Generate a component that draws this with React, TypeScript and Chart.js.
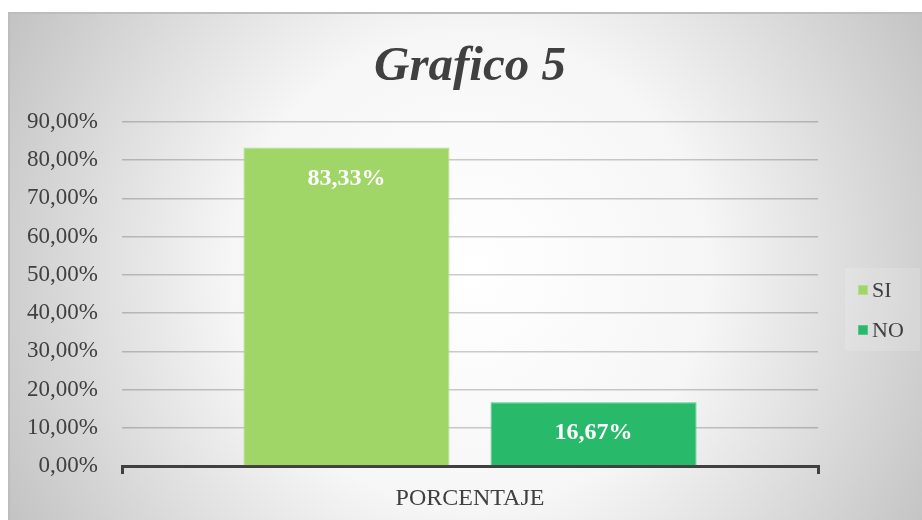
import React, { useEffect, useRef } from "react";
import { Chart, registerables } from "chart.js";

Chart.register(...registerables);

const categories = ["PORCENTAJE"];
const seriesNames = ["SI", "NO"];
const siValues = [83.33];
const noValues = [16.67];
const yTicks = [0, 10, 20, 30, 40, 50, 60, 70, 80, 90];
const titleText = "Grafico 5";
const colors = ["#A0D568", "#28BA6A"];
const borders = ["#B4DE8A", "#52C88A"];

const fmt = (v: number) => v.toFixed(2).replace(".", ",") + "%";

const W = 922;
const H = 520;
const SERIF = "'Liberation Serif', 'Times New Roman', serif";

const bgPlugin = {
  id: "bgPlugin",
  beforeDraw(chart: any) {
    const ctx = chart.ctx;
    ctx.save();
    ctx.fillStyle = "#ffffff";
    ctx.fillRect(0, 0, W, H);
    const g = ctx.createRadialGradient(470, 270, 0, 470, 270, 530);
    g.addColorStop(0, "#ffffff");
    g.addColorStop(0.45, "#f6f6f6");
    g.addColorStop(1, "#c2c2c2");
    ctx.fillStyle = g;
    ctx.fillRect(9, 13, W - 9, H - 13);
    ctx.strokeStyle = "#bdbdbd";
    ctx.lineWidth = 2;
    ctx.beginPath();
    ctx.moveTo(9, H);
    ctx.lineTo(9, 13);
    ctx.lineTo(W, 13);
    ctx.stroke();
    // title
    ctx.fillStyle = "#404040";
    ctx.font = "italic bold 49px " + SERIF;
    ctx.textAlign = "center";
    ctx.textBaseline = "alphabetic";
    ctx.fillText(titleText, 470, 80);
    // legend box
    ctx.fillStyle = "rgba(255,255,255,0.15)";
    ctx.fillRect(845, 268, 75, 83);
    ctx.restore();
  },
  afterDraw(chart: any) {
    const ctx = chart.ctx;
    ctx.save();
    // data labels
    ctx.fillStyle = "#ffffff";
    ctx.font = "bold 24px " + SERIF;
    ctx.textAlign = "center";
    ctx.textBaseline = "middle";
    chart.data.datasets.forEach((ds: any, i: number) => {
      const meta = chart.getDatasetMeta(i);
      meta.data.forEach((bar: any, j: number) => {
        ctx.fillText(fmt(ds.data[j]), bar.x, bar.y + 31);
      });
    });
    // legend
    ctx.font = "22px " + SERIF;
    ctx.textAlign = "left";
    ctx.textBaseline = "middle";
    chart.data.datasets.forEach((ds: any, i: number) => {
      const y = 290 + i * 40;
      ctx.fillStyle = ds.backgroundColor;
      ctx.fillRect(858, y - 5, 10, 10);
      ctx.strokeStyle = ds.borderColor;
      ctx.lineWidth = 1;
      ctx.strokeRect(858.5, y - 4.5, 9, 9);
      ctx.fillStyle = "#404040";
      ctx.fillText(ds.label, 872, y + 1);
    });
    ctx.restore();
  },
};

export default function App() {
  const ref = useRef<HTMLCanvasElement>(null);
  useEffect(() => {
    if (!ref.current) return;
    const chart = new Chart(ref.current, {
      type: "bar",
      data: {
        labels: categories,
        datasets: [
          {
            label: seriesNames[0],
            data: siValues,
            backgroundColor: colors[0],
            borderColor: borders[0],
            borderWidth: 1,
          },
          {
            label: seriesNames[1],
            data: noValues,
            backgroundColor: colors[1],
            borderColor: borders[1],
            borderWidth: 1,
          },
        ],
      },
      options: {
        responsive: false,
        animation: false,
        devicePixelRatio: 1,
        layout: { padding: { top: 122, right: 104, left: 0, bottom: 0 } },
        plugins: { legend: { display: false }, title: { display: false }, tooltip: { enabled: false } },
        datasets: { bar: { categoryPercentage: 0.71, barPercentage: 0.834 } },
        scales: {
          x: {
            offset: true,
            afterFit: (s: any) => { s.height = 54; },
            grid: {
              offset: true,
              drawOnChartArea: false,
              drawTicks: true,
              tickLength: 8,
              color: "#404040",
              lineWidth: 3,
            },
            border: { display: true, color: "#404040", width: 3 },
            ticks: {
              color: "#404040",
              padding: 10,
              font: { family: SERIF, size: 24 },
            },
          },
          y: {
            min: 0,
            max: 90,
            z: 1,
            afterFit: (s: any) => { s.width = 122; },
            afterBuildTicks: (s: any) => { s.ticks = yTicks.map((v) => ({ value: v })); },
            grid: {
              drawTicks: false,
              color: (c: any) => (c.tick && c.tick.value === 0 ? "rgba(0,0,0,0)" : "rgba(0,0,0,0.2)"),
              lineWidth: 1.5,
            },
            border: { display: false },
            ticks: {
              color: "#404040",
              padding: 24,
              callback: (v: any) => fmt(Number(v)),
              font: { family: SERIF, size: 23 },
            },
          },
        },
      },
      plugins: [bgPlugin],
    });
    return () => chart.destroy();
  }, []);
  return (
    <canvas
      ref={ref}
      width={W}
      height={H}
      style={{ position: "absolute", left: 0, top: 0, width: W, height: H }}
    />
  );
}
